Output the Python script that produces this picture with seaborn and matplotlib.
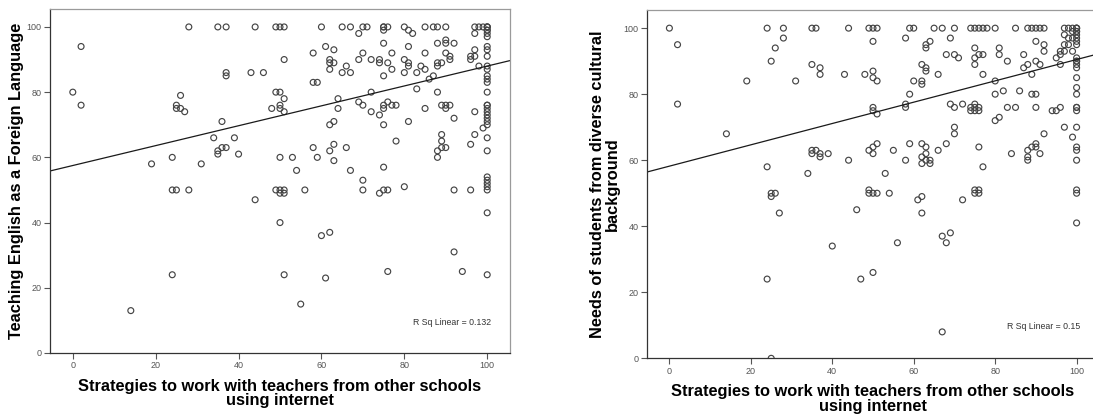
import matplotlib
matplotlib.use("Agg")
import matplotlib.pyplot as plt
import pandas as pd
import seaborn as sns

# ---------------------------------------------------------------------------
# Survey scores (0-100). Shared x: "Strategies to work with teachers from
# other schools using internet".
# ---------------------------------------------------------------------------

# Panel 1: Teaching English as a Foreign Language
teach_x = [
    # x below 50
    0, 2, 2, 14, 19, 24, 24, 24, 25, 25, 25, 26, 26, 27, 28, 28, 31, 34, 35,
    35, 35, 36, 36, 37, 37, 37, 37, 39, 40, 43, 44, 44, 46, 48, 49, 49, 49,
    # score of 100
    50, 51, 60, 65, 67, 70, 71, 75, 75, 76, 80, 85, 87, 88, 90, 97, 98, 99,
    100, 100, 100,
    # x = 100
    100, 100, 100, 100, 100, 100, 100, 100, 100, 100, 100, 100, 100, 100, 100,
    100, 100, 100, 100, 100, 100, 100, 100, 100, 100, 100, 100, 100, 100, 100,
    # 85-99
    69, 75, 81, 82, 97,
    61, 63, 58, 70, 75, 81, 85, 88, 90, 90, 92,
    97, 96, 97, 96, 98,
    51, 62, 62, 62, 63, 69, 77, 72, 74, 74, 76, 80, 81, 81, 80, 83, 84, 85,
    90, 91, 91, 89, 88, 88,
    65, 67, 66, 75, 77, 87, 86,
    # 70-84
    58, 59, 72, 64, 69, 70, 83, 88,
    50, 51, 50, 50, 51,
    64, 72, 74, 75, 75, 76, 77, 78, 75, 81, 85, 89, 90, 91, 90, 92, 97, 99,
    62, 63, 78,
    # 50-69
    89, 89, 88, 89, 90, 88, 96, 97,
    58, 59, 62, 63, 63, 66,
    50, 53, 54, 67, 70, 70, 75, 80, 74, 75, 76,
    50, 51, 50, 51, 56, 92, 96,
    # below 50
    50, 60, 62, 92, 51, 61, 76, 94, 55,
]
teach_y = [
    80, 94, 76, 13, 58, 60, 50, 24, 50, 76, 75, 75, 79, 74, 100, 50, 58, 66, 100,
    62, 61, 71, 63, 100, 86, 85, 63, 66, 61, 86, 100, 47, 86, 75, 80, 100, 50,
    100, 100, 100, 100, 100, 100, 100, 100, 100, 100, 100, 100, 100, 100, 100, 100, 100, 100,
    100, 100, 100,
    99, 99, 98, 97, 94, 93, 91, 88, 87, 85, 84, 83, 80, 76, 76,
    75, 74, 73, 72, 71, 70, 66, 62, 54, 53, 52, 51, 50, 43, 24,
    98, 99, 99, 98, 98,
    94, 93, 92, 92, 95, 94, 92, 95, 96, 95, 95,
    93, 91, 91, 90, 88,
    90, 90, 89, 87, 89, 90, 92, 90, 90, 89, 89, 90, 89, 88, 86, 86, 88, 87,
    92, 91, 90, 89, 89, 88,
    86, 86, 88, 85, 87, 85, 84,
    83, 83, 80, 78, 77, 76, 81, 80,
    80, 78, 76, 75, 74,
    75, 74, 73, 76, 75, 77, 76, 76, 70, 71, 75, 76, 76, 76, 75, 72, 74, 69,
    70, 71, 65,
    67, 65, 62, 63, 63, 60, 64, 67,
    63, 60, 62, 59, 64, 63,
    60, 60, 56, 56, 53, 50, 57, 51, 49, 50, 50,
    50, 50, 49, 49, 50, 50, 50,
    40, 36, 37, 31, 24, 23, 25, 25, 15,
]

# Panel 2: Needs of students from diverse cultural background
needs_x = [
    # x below 45
    0, 2, 2, 14, 19, 24, 28, 28, 26, 25, 24, 25, 26, 25, 27, 24, 25, 31, 34,
    35, 36, 35, 37, 37, 35, 36, 35, 37, 37, 39, 40, 43, 44, 44,
    # score of 100
    49, 50, 51, 59, 60, 65, 67, 70, 74, 75, 76, 77, 78, 80, 85, 88, 89, 90,
    91, 92, 97, 98, 99, 100, 100, 100,
    # x = 100
    100, 100, 100, 100, 100, 100, 100, 100, 100, 100, 100, 100,
    100, 100, 100, 100, 100, 100, 100, 100, 100, 100, 100, 100,
    # 84-97
    50, 58, 69, 63, 63, 64, 68, 70, 71, 75, 75, 76, 77, 75, 77, 81, 81, 83, 80,
    90, 92, 92, 87, 90, 91, 87, 88, 89, 95, 96, 96, 97, 98, 96, 97, 99, 97, 99,
    99, 98,
    48, 50, 50, 51, 59, 62, 63, 63, 60, 62, 62, 66,
    # 67-81
    50, 50, 51, 58, 58, 69, 70, 72, 74, 75, 75, 76, 75, 76, 74,
    80, 82, 80, 81, 86, 89, 90, 83, 85, 90, 94, 95, 96, 97, 99, 92,
    # 56-70
    70, 70, 59, 62, 63, 66, 68, 62, 63, 63, 64, 58, 62, 64,
    76, 77, 84, 88, 88, 88, 89, 90, 90, 91,
    49, 50, 51, 50, 55, 53,
    # 48-51
    49, 50, 51, 49, 54, 62, 61, 72, 75, 76, 75, 76,
    # below 48
    46, 62, 67, 69, 68, 56, 47, 50, 67,
]
needs_y = [
    100, 95, 77, 68, 84, 100, 100, 97, 94, 90, 58, 50, 50, 49, 44, 24, 0, 84, 56,
    100, 100, 89, 88, 86, 63, 63, 62, 62, 61, 62, 34, 86, 100, 60,
    100, 100, 100, 100, 100, 100, 100, 100, 100, 100, 100, 100, 100, 100, 100, 100, 100, 100,
    100, 100, 100, 100, 100, 100, 100, 100,
    99, 99, 98, 97, 96, 95, 91, 90, 90, 89, 88, 85,
    82, 80, 76, 76, 75, 70, 64, 63, 60, 51, 50, 41,
    96, 97, 97, 95, 94, 96, 92, 92, 91, 94, 91, 92, 92, 89, 86, 94, 92, 90, 84,
    96, 95, 93, 92, 90, 89, 88, 89, 86, 91, 92, 89, 95, 95, 93, 93, 93, 98, 99,
    97, 97,
    86, 87, 85, 84, 80, 89, 87, 88, 84, 84, 83, 86,
    76, 75, 74, 77, 76, 77, 76, 77, 76, 77, 76, 76, 75, 75, 75,
    80, 81, 72, 73, 81, 80, 80, 76, 76, 76, 75, 75, 76, 70, 67, 68,
    70, 68, 65, 65, 64, 63, 65, 61, 62, 60, 60, 60, 59, 59,
    64, 58, 62, 63, 61, 60, 64, 65, 64, 62,
    63, 64, 65, 62, 63, 56,
    51, 50, 50, 50, 50, 49, 48, 48, 51, 51, 50, 50,
    45, 44, 37, 38, 35, 35, 24, 26, 8,
]

# Linear fit lines (intercept, slope) with their R-squared captions
teach_fit = (57.5, 0.305)
needs_fit = (58.2, 0.323)
fit_labels = ["R Sq Linear = 0.132", "R Sq Linear = 0.15"]

x_title = "Strategies to work with teachers from other schools\nusing internet"
teach_title = "Teaching English as a Foreign Language"
needs_title = "Needs of students from diverse cultural\nbackground"
tick_values = [0, 20, 40, 60, 80, 100]

sns.set_style("ticks")
plt.rcParams["font.family"] = ["Liberation Sans", "DejaVu Sans"]

W, H = 1093, 418
fig = plt.figure(figsize=(W / 100, H / 100), dpi=100)
ax_teach = fig.add_axes([50 / W, 1 - 353 / H, 460 / W, 344 / H])
ax_needs = fig.add_axes([647 / W, 1 - 358.3 / H, 452 / W, 348.3 / H])


def scatter_panel(ax, xs, ys, fit, ytitle, fit_label, ylabel_x):
    df = pd.DataFrame({"score_x": xs, "score_y": ys})
    ax.set_xlim(-5.5, 105.5)
    ax.set_ylim(0, 105.5)
    sns.regplot(
        data=df, x="score_x", y="score_y", ax=ax, fit_reg=False,
        color="#454545",
        scatter_kws=dict(s=18, facecolors="none", linewidths=0.85, alpha=1),
    )
    intercept, slope = fit
    ax.axline((0, intercept), slope=slope, color="#1a1a1a", linewidth=0.9)

    ax.set_xlim(-5.5, 105.5)
    ax.set_ylim(0, 105.5)
    ax.set_xticks(tick_values)
    ax.set_yticks(tick_values)
    ax.tick_params(axis="both", direction="out", length=4, width=0.8,
                   color="#555555", labelcolor="#555555", labelsize=6.5, pad=2)
    for side in ("left", "bottom"):
        ax.spines[side].set_color("#333333")
        ax.spines[side].set_linewidth(0.9)
    for side in ("top", "right"):
        ax.spines[side].set_visible(True)
        ax.spines[side].set_color("#9a9a9a")
        ax.spines[side].set_linewidth(0.9)

    ax.set_xlabel(x_title, fontsize=11.8, fontweight="bold", va="top",
                  linespacing=0.95, color="black")
    ax.xaxis.set_label_coords(0.5, -0.075)
    ax.set_ylabel(ytitle, fontsize=11.8, fontweight="bold", va="center",
                  linespacing=0.95, color="black")
    ax.yaxis.set_label_coords(ylabel_x, 0.5)

    ax.text(101, 9.5, fit_label, ha="right", va="center", fontsize=6.3,
            color="#333333")


scatter_panel(ax_teach, teach_x, teach_y, teach_fit, teach_title,
              fit_labels[0], (17 - 50) / 460)
scatter_panel(ax_needs, needs_x, needs_y, needs_fit, needs_title,
              fit_labels[1], (605 - 647) / 452)

fig.savefig("out.png", dpi=100)
